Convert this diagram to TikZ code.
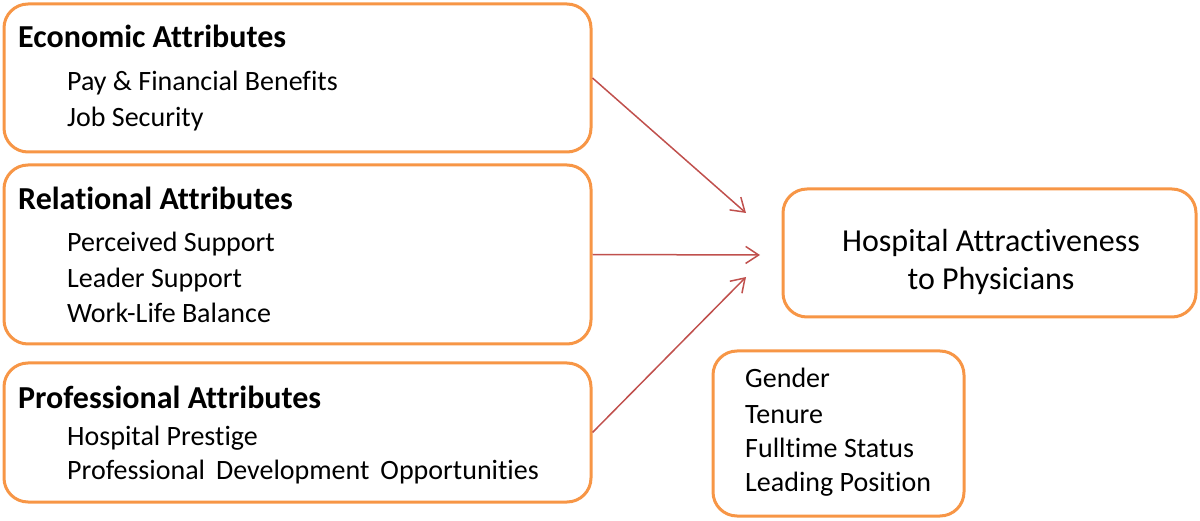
\documentclass[tikz,border=0pt]{standalone}
\usepackage{fontspec}
\setmainfont[Ligatures=NoCommon]{Carlito}
\usetikzlibrary{arrows.meta}
\definecolor{boxorange}{HTML}{F79646}
\definecolor{arrowred}{HTML}{C0504D}
\tikzset{
  boxnode/.style={draw=boxorange, line width=3pt, rounded corners=24pt, fill=white, inner sep=0pt},
  headtext/.style={anchor=base west, inner sep=0pt, font=\fontsize{32}{38}\selectfont\bfseries},
  itemtext/.style={anchor=base west, inner sep=0pt, font=\fontsize{28}{34}\selectfont},
  link/.style={draw=arrowred, line width=1.5pt, -{Straight Barb[length=13pt,width=17pt]}},
}
\begin{document}
\begin{tikzpicture}[x=1pt,y=-1pt]
\useasboundingbox (0,0) rectangle (1200,521);
% boxes
\node[boxnode, minimum width=587pt, minimum height=148pt] (econ) at (297.5,78) {};
\node[boxnode, minimum width=587pt, minimum height=179pt] (rel) at (297.5,254.5) {};
\node[boxnode, minimum width=587pt, minimum height=139pt] (prof) at (297.5,432.5) {};
\node[boxnode, minimum width=413pt, minimum height=128pt] (hosp) at (989.5,253) {};
\node[boxnode, minimum width=251pt, minimum height=165pt] (cov) at (838.5,433.5) {};
% texts
\node[align=center, inner sep=0pt, font=\fontsize{32}{38}\selectfont] (hospt) at (991,262) {Hospital Attractiveness\\to Physicians};
\node[headtext] (econh) at (18,48) {Economic Attributes};
\node[itemtext] (econ1) at (67,91) {Pay \& Financial Benefits};
\node[itemtext] (econ2) at (67,127) {Job Security};
\node[headtext] (relh) at (18,210) {Relational Attributes};
\node[itemtext] (rel1) at (67,252) {Perceived Support};
\node[itemtext] (rel2) at (67,288) {Leader Support};
\node[itemtext] (rel3) at (67,323) {Work-Life Balance};
\node[headtext] (profh) at (18,408) {Professional Attributes};
\node[itemtext] (prof1) at (67,445) {Hospital Prestige};
\node[itemtext] (prof2) at (67,479) {Professional \,Development \,Opportunities};
\node[itemtext] (cov1) at (745,388) {Gender};
\node[itemtext] (cov2) at (745,423) {Tenure};
\node[itemtext] (cov3) at (745,457) {Fulltime Status};
\node[itemtext] (cov4) at (745,491) {Leading Position};
% arrows
\coordinate (t1) at (746,213);
\coordinate (t2) at (760,255);
\coordinate (t3) at (746,277);
\draw[link] (econ.east) -- (t1);
\draw[link] (rel.east) -- (t2);
\draw[link] (prof.east) -- (t3);
\end{tikzpicture}
\end{document}
